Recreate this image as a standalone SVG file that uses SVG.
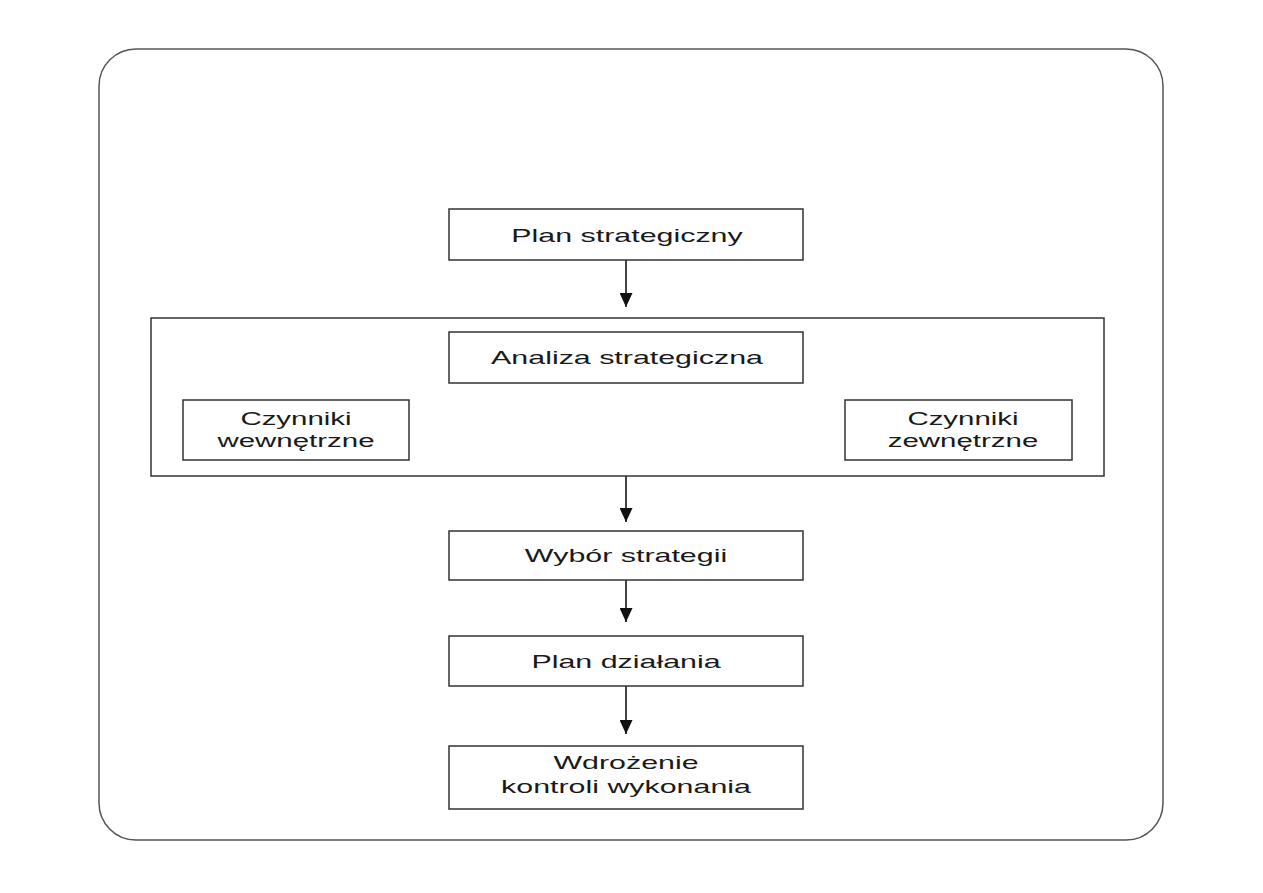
<svg xmlns="http://www.w3.org/2000/svg" width="1263" height="893" viewBox="0 0 1263 893">
<defs>
<style>
.box{fill:#fff;stroke:#333;stroke-width:1.5}
.t{font-family:"Liberation Sans",Arial,sans-serif;font-size:19px;fill:#1a1a1a;text-anchor:middle}
.c{stroke:#444;stroke-width:2;fill:none;marker-end:url(#ah)}
</style>
<marker id="ah" markerWidth="14" markerHeight="13" refX="14" refY="6.5" orient="auto" markerUnits="userSpaceOnUse">
<path d="M0,0 L14,6.5 L0,13 Z" fill="#111"/>
</marker>
</defs>
<rect width="1263" height="893" fill="#fff"/>
<rect x="99" y="49" width="1064" height="791" rx="37" ry="37" fill="#fff" stroke="#555" stroke-width="1.5"/>
<g id="connectors">
<line class="c" x1="626" y1="260" x2="626" y2="307"/>
<line class="c" x1="626" y1="476" x2="626" y2="522"/>
<line class="c" x1="626" y1="580" x2="626" y2="622"/>
<line class="c" x1="626" y1="686" x2="626" y2="734"/>
</g>
<g id="plan-strategiczny"><rect class="box" x="449" y="209" width="354" height="51"/><text class="t" transform="matrix(1.6 0 0 1 627 242)">Plan strategiczny</text></g>
<g id="analiza-group"><rect class="box" x="151" y="318" width="953" height="158"/></g>
<g id="analiza-strategiczna"><rect class="box" x="449" y="332" width="354" height="51"/><text class="t" transform="matrix(1.6 0 0 1 627 364)">Analiza strategiczna</text></g>
<g id="czynniki-wewnetrzne"><rect class="box" x="183" y="400" width="226" height="60"/><text class="t" transform="matrix(1.55 0 0 1 296 425)">Czynniki</text><text class="t" transform="matrix(1.55 0 0 1 296 447)">wewnętrzne</text></g>
<g id="czynniki-zewnetrzne"><rect class="box" x="845" y="400" width="227" height="60"/><text class="t" transform="matrix(1.55 0 0 1 963 425)">Czynniki</text><text class="t" transform="matrix(1.55 0 0 1 963 447)">zewnętrzne</text></g>
<g id="wybor-strategii"><rect class="box" x="449" y="531" width="354" height="49"/><text class="t" transform="matrix(1.6 0 0 1 626 562)">Wybór strategii</text></g>
<g id="plan-dzialania"><rect class="box" x="449" y="636" width="354" height="50"/><text class="t" transform="matrix(1.6 0 0 1 626 668)">Plan działania</text></g>
<g id="wdrozenie"><rect class="box" x="449" y="746" width="354" height="63"/><text class="t" transform="matrix(1.6 0 0 1 626 769)">Wdrożenie</text><text class="t" transform="matrix(1.6 0 0 1 626 793)">kontroli wykonania</text></g>
</svg>
